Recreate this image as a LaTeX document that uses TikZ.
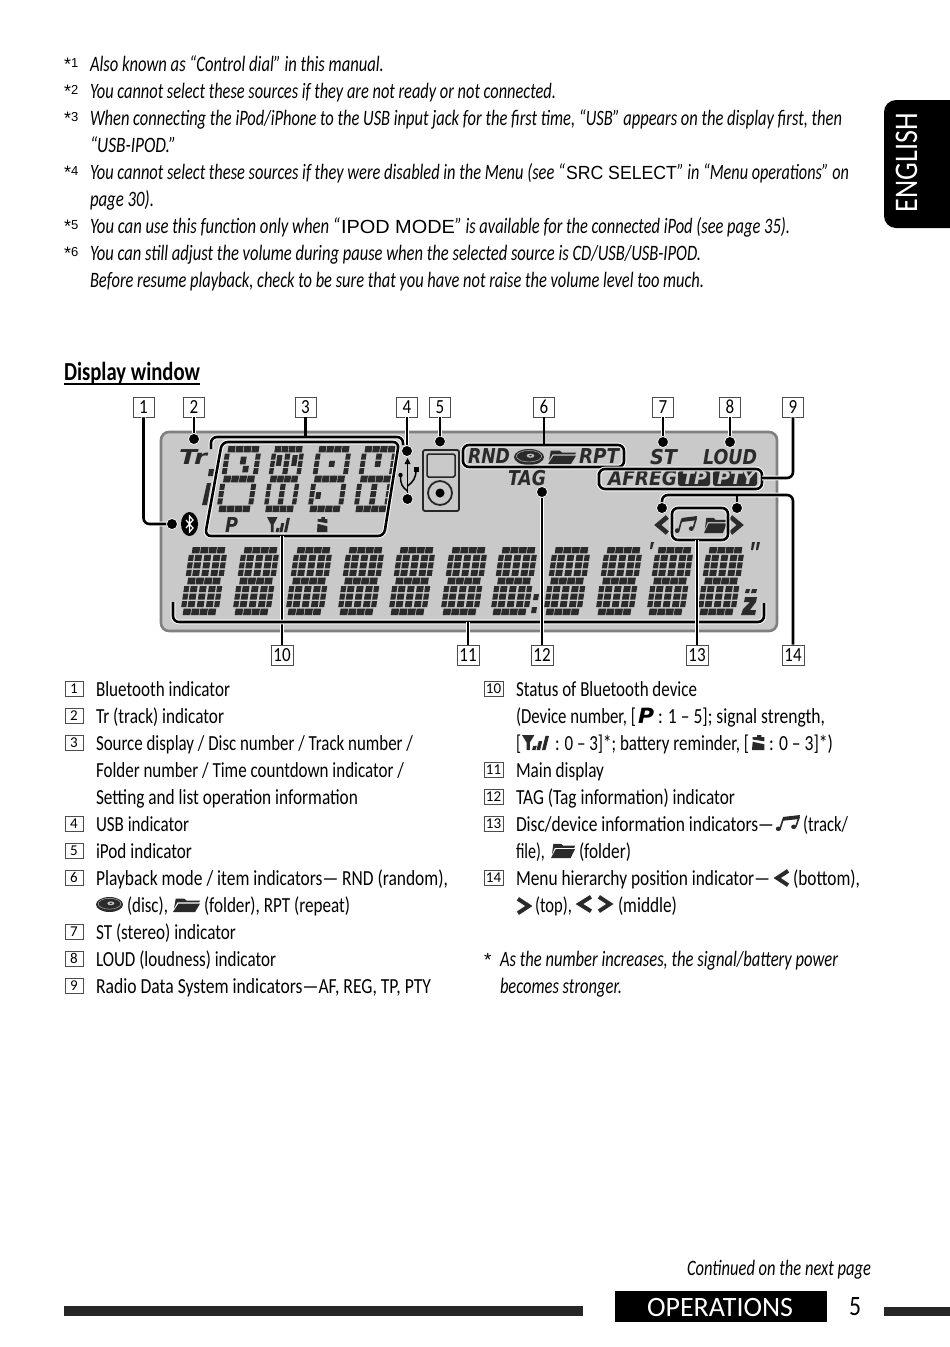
\documentclass[tikz,border=0pt]{standalone}
\usepackage{fontspec}
\usepackage{graphicx}
\setmainfont{Carlito}
\newfontfamily\disp{Liberation Sans}
\newfontfamily\dispb{DejaVu Sans}
\usetikzlibrary{calc}
\definecolor{lcdc}{HTML}{2A2A2A}
\definecolor{panelc}{HTML}{C9C9C9}
\tikzset{
  txt/.style={anchor=base west,inner sep=0pt,outer sep=0pt,font=\fontsize{21.5}{25}\selectfont,text=black},
  ital/.style={font=\itshape\fontsize{22}{25}\selectfont},
  wide/.style={font=\disp\fontsize{19}{23}\selectfont},
  dsp/.style={font=\dispb\bfseries\itshape\fontsize{20.5}{25}\selectfont,text=lcdc},
  dsps/.style={font=\dispb\bfseries\itshape\fontsize{17.5}{20}\selectfont,text=panelc},
  lcdfill/.style={fill=lcdc},
  numbig/.style={draw=black!70,line width=0.9pt,fill=white,minimum width=21pt,minimum height=20pt,inner sep=0pt,font=\fontsize{20}{22}\selectfont},
  numsmall/.style={draw=black!70,line width=0.8pt,fill=white,minimum width=18pt,minimum height=15pt,inner sep=0pt,font=\fontsize{15}{17}\selectfont},
  conn/.style={draw=black,line width=2.6pt,rounded corners=6pt,preaction={draw=white,line width=4.6pt}},
  linec/.style={draw=black,line width=2.6pt,rounded corners=6pt},
  dot/.style={circle,fill=black,draw=white,line width=0.7pt,minimum size=11pt,inner sep=0pt},
}
\newcount\tc
\newcommand\tx[5][]{\global\advance\tc by 1
  \pgfmathsetlengthmacro\tw{(#3-#2)*1pt}
  \node[txt,#1,name=t\the\tc] at (#2,#4) {\resizebox{\tw}{\height}{#5}};}
\newcommand\cel[4]{\fill[lcdfill] (#1,#2)--(#3,#2)--(#3,#4)--(#1,#4)--cycle;}
\newcommand\barsring{%
  \foreach \a in {0.07,0.29,0.51,0.73}{\pgfmathsetmacro\b{\a+0.2}
    \cel{\a}{0.905}{\b}{1}\cel{\a}{0.45}{\b}{0.55}\cel{\a}{0}{\b}{0.095}}
  \foreach \a/\b in {0.575/0.665,0.685/0.775,0.795/0.885,0.115/0.205,0.225/0.315,0.335/0.425}{
    \cel{0}{\a}{0.135}{\b}\cel{0.865}{\a}{1}{\b}}}
\newcommand\mainDigit[2]{\begin{scope}[shift={(#1,#2)},x={(38pt,0pt)},y={(10pt,68pt)}]
  \barsring
  \foreach \a/\b in {0.575/0.665,0.685/0.775,0.795/0.885,0.115/0.205,0.225/0.315,0.335/0.425}{
    \foreach \c/\d in {0.17/0.35,0.41/0.59,0.65/0.83}{\cel{\c}{\a}{\d}{\b}}}
\end{scope}}
\newcommand\srcDigit[4]{\begin{scope}[shift={(#1,#2)},x={(#3pt,0pt)},y={(10pt,66pt)}]
  \barsring #4
\end{scope}}
\newcommand\icFolder[4]{\begin{scope}[shift={(#1,#2)},x=#3pt,y=-#4pt]
  \fill[lcdfill] (0.1,0.05)--(0.42,0.05)--(0.5,0.18)--(1,0.18)--(0.97,0.32)--(0.16,0.32)--(0.04,0.75)--cycle;
  \fill[lcdfill] (0.2,0.4)--(1,0.4)--(0.82,1)--(0,1)--cycle;
\end{scope}}
\newcommand\icNote[4]{\begin{scope}[shift={(#1,#2)},x=#3pt,y=-#4pt]
  \fill[lcdfill] (0.3,0.12)--(1,0)--(0.96,0.25)--(0.28,0.36)--cycle;
  \draw[lcdc,line width=1.6pt] (0.31,0.2)--(0.17,0.85) (0.97,0.1)--(0.83,0.72);
  \fill[lcdfill] (0.1,0.86) circle[x radius=0.11,y radius=0.14];
  \fill[lcdfill] (0.74,0.74) circle[x radius=0.11,y radius=0.14];
\end{scope}}
\newcommand\icAnt[4]{\begin{scope}[shift={(#1,#2)},x=#3pt,y=-#4pt]
  \fill[lcdfill] (0,0)--(0.46,0)--(0.29,0.5)--(0.29,1)--(0.17,1)--(0.17,0.5)--cycle;
  \fill[lcdfill] (0.42,0.72)--(0.55,0.72)--(0.5,1)--(0.37,1)--cycle;
  \fill[lcdfill] (0.62,0.4)--(0.75,0.4)--(0.67,1)--(0.54,1)--cycle;
  \fill[lcdfill] (0.87,0.05)--(1,0.05)--(0.87,1)--(0.74,1)--cycle;
\end{scope}}
\newcommand\icBat[4]{\begin{scope}[shift={(#1,#2)},x=#3pt,y=-#4pt]
  \fill[lcdfill] (0.4,0)--(0.72,0)--(0.72,0.14)--(0.95,0.14)--(0.95,0.42)--(0.05,0.3)--(0.05,0.14)--(0.4,0.14)--cycle;
  \fill[lcdfill] (0.05,0.45)--(0.95,0.62)--(0.95,1)--(0,1)--cycle;
\end{scope}}
\newcommand\icChev[5]{\begin{scope}[shift={(#1,#2)},x=#3pt,y=-#4pt]
  \draw[lcdc,line width=#5pt,line join=miter] (0.88,0.1)--(0.2,0.5)--(0.88,0.9);
\end{scope}}
\newcommand\icChevR[5]{\begin{scope}[shift={(#1,#2)},x=#3pt,y=-#4pt]
  \draw[lcdc,line width=#5pt,line join=miter] (0.12,0.1)--(0.8,0.5)--(0.12,0.9);
\end{scope}}
\newcommand\icDisc[4]{\begin{scope}[shift={(#1,#2)},x=#3pt,y=-#4pt]
  \fill[lcdfill] (0.5,0.5) circle[x radius=0.5,y radius=0.5];
  \draw[white!70!black,line width=0.5pt] (0.5,0.45) circle[x radius=0.42,y radius=0.36];
  \fill[white!75!black] (0.55,0.42) circle[x radius=0.13,y radius=0.13];
  \fill[lcdfill] (0.55,0.42) circle[x radius=0.05,y radius=0.05];
\end{scope}}
\begin{document}
\begin{tikzpicture}[x=1pt,y=-1pt]
\fill[white] (0,0) rectangle (950,1347);
\useasboundingbox (0,0) rectangle (950,1347);
% ---- footnotes
\foreach \n/\y in {1/71,2/98,3/125,4/179,5/233,6/260}{
  \node[txt,font=\disp\fontsize{18}{20}\selectfont,name=fn\n] at (64,\y-1) {*\raisebox{3pt}{\fontsize{13}{14}\selectfont\n}};}
\tx[ital]{90}{384}{71}{Also known as “Control dial” in this manual.}
\tx[ital]{90}{556}{98}{You cannot select these sources if they are not ready or not connected.}
\tx[ital]{90}{842}{125}{When connecting the iPod/iPhone to the USB input jack for the first time, “USB” appears on the display first, then}
\tx[ital]{90}{176}{152}{“USB-IPOD.”}
\tx[ital]{90}{565}{179}{You cannot select these sources if they were disabled in the Menu (see “}
\tx[wide]{566}{677}{179}{SRC SELECT}
\tx[ital]{677}{849}{179}{” in “Menu operations” on}
\tx[ital]{90}{154}{206}{page 30).}
\tx[ital]{90}{340}{233}{You can use this function only when “}
\tx[wide]{341}{455}{233}{IPOD MODE}
\tx[ital]{455}{790}{233}{” is available for the connected iPod (see page 35).}
\tx[ital]{90}{701}{260}{You can still adjust the volume during pause when the selected source is CD/USB/USB-IPOD.}
\tx[ital]{90}{704}{287}{Before resume playback, check to be sure that you have not raise the volume level too much.}
% ---- language tab
\fill[black] (950,100) [rounded corners=12pt] --(884,100)--(884,228) [sharp corners] --(950,228)--cycle;
\node[inner sep=0pt,rotate=90,text=white,anchor=base,font=\fontsize{33}{35}\selectfont,name=eng] at (917,162.5) {\resizebox{99pt}{\height}{ENGLISH}};
% ---- heading
\tx[font=\bfseries\fontsize{26}{28}\selectfont]{64}{200}{380}{Display window}
\draw[black,line width=1.6pt] (64,384)--(200,384);
% ---- panel
\fill[panelc,draw=black!50,line width=2.6pt,rounded corners=8pt] (161,432) rectangle (777,631);
% main digits
\foreach \x in {180,232,285,337,388,440,490,543,595,646,697}{\mainDigit{\x}{615}}
% colon, primes, z
\fill[lcdfill] (534,594)--(539,594)--(538,600)--(533,600)--cycle (532,607)--(537,607)--(536,613)--(531,613)--cycle;
\fill[lcdfill] (651,542)--(654,542)--(652,549)--(650,549)--cycle;
\fill[lcdfill] (752,542)--(755,542)--(753,550)--(751,550)--cycle (757,542)--(760,542)--(758,550)--(756,550)--cycle;
\fill[lcdfill] (746,589)--(750,589)--(749,593)--(745,593)--cycle (752,589)--(757,589)--(756,593)--(751,593)--cycle;
\fill[lcdfill] (745,597)--(757,597)--(756,602)--(750,610)--(756,610)--(755,615)--(741,615)--(743,609)--(750,602)--(744,602)--cycle;
% source digits
\srcDigit{216}{512}{36}{\cel{0.56}{0.6}{0.72}{0.7}\cel{0.46}{0.72}{0.62}{0.84}}
\srcDigit{263}{512}{32}{\foreach \a/\b in {0.575/0.665,0.685/0.775,0.795/0.885,0.115/0.205,0.225/0.315,0.335/0.425}{\cel{0.42}{\a}{0.58}{\b}}\cel{0.18}{0.7}{0.34}{0.86}\cel{0.66}{0.7}{0.82}{0.86}}
\srcDigit{307}{512}{35}{\cel{0.42}{0.685}{0.58}{0.775}\cel{0.18}{0.2}{0.32}{0.3}}
\srcDigit{353}{512}{35}{\foreach \a/\b in {0.685/0.775,0.795/0.885,0.115/0.205,0.225/0.315,0.335/0.425}{\cel{0.42}{\a}{0.58}{\b}}}
% colon-like 1
\fill[lcdfill] (209,469)--(214,469)--(213,476)--(208,476)--cycle;
\fill[lcdfill] (207,483)--(211,483)--(207,505)--(202,505)--cycle;
% display labels
\tx[dsp]{179}{207}{464}{Tr}
\tx[dsp]{225}{238}{532}{P}
\icAnt{267}{517}{23}{15}
\icBat{317}{517}{11}{15}
\tx[dsp]{468}{510}{463.5}{RND}
\icDisc{514}{449}{30}{16}
\icFolder{548}{450}{28}{14}
\tx[dsp]{579}{619}{463.5}{RPT}
\tx[dsp]{650}{677}{464}{ST}
\tx[dsp]{703}{757}{464}{LOUD}
\tx[dsp]{508}{546}{485}{TAG}
\tx[dsp]{608}{677}{485}{AFREG}
\fill[lcdfill,rounded corners=2.5pt] (678,471) rectangle (710,486);
\fill[lcdfill,rounded corners=2.5pt] (713,471) rectangle (757,486);
\tx[dsps]{682}{707}{484}{TP}
\tx[dsps]{717}{755}{484}{PTY}
% bluetooth
\fill[black] (189.5,524) circle[x radius=8.5,y radius=12];
\draw[white,line width=1.2pt] (186,520)--(193,528)--(189.5,532)--(189.5,516)--(193,520)--(186,528);
% ipod
\draw[black!85,line width=1.8pt,rounded corners=2pt] (423,450) rectangle (459,511);
\draw[black!85,line width=1.5pt,rounded corners=1.5pt] (427,454) rectangle (455,477);
\draw[black!85,line width=1.8pt] (440,493) circle[radius=12];
\fill[black] (440,493) circle[radius=4.5];
% usb
\draw[black,line width=1.5pt] (407.5,462)--(407.5,497);
\fill[black] (407.5,458)--(404.5,464)--(410.5,464)--cycle;
\draw[black,line width=1.5pt] (407.5,491) .. controls (402,487) and (400.5,484) .. (400.5,476);
\draw[black,line width=1.5pt] (407.5,486) .. controls (413,482) and (416,478) .. (416,470);
\fill[black] (400.5,475) circle[radius=2.2];
\fill[black] (413.5,466.5) rectangle (418.5,471.5);
% chevrons, notes
\icChev{655}{515}{14}{20}{4.6}
\icChevR{729}{515}{14}{20}{4.6}
\icNote{675}{516}{22}{17}
\icFolder{704}{517}{23}{16}
% number boxes
\foreach \n/\x in {1/143.5,2/194,3/305.5,4/407,5/440,6/544,7/663,8/730,9/793}{
  \node[numbig,name=n\n] at (\x,407) {\scalebox{0.85}[1]{\n}};}
\foreach \n/\x in {10/282,11/468,12/542,13/697,14/793}{
  \node[numbig,minimum width=22pt,name=n\n] at (\x,655) {\scalebox{0.85}[1]{\n}};}
% dots
\node[dot,name=d1] at (172,524) {};
\node[dot,name=d2] at (194,439) {};
\node[dot,name=d4] at (407,451) {};
\node[dot,name=d4b] at (407.5,499) {};
\node[dot,name=d5] at (440,441.5) {};
\node[dot,name=d7] at (663,442) {};
\node[dot,name=d8] at (730,442) {};
\node[dot,name=d12] at (542,492) {};
\node[dot,name=d14a] at (662,508) {};
\node[dot,name=d14b] at (737,508) {};
% connectors
\draw[conn] (n1.south) |- (d1.west);
\draw[conn] (n2.south) -- (d2);
\draw[conn] (n4.south) -- (d4);
\draw[conn] (n5.south) -- (d5);
\draw[conn] (n7.south) -- (d7);
\draw[conn] (n8.south) -- (d8);
\coordinate (b3l) at (211,449); \coordinate (b3r) at (403,445); \coordinate (b3t) at (305.5,437);
\draw[conn] (b3l)--(211,437)--(403,437)--(b3r);
\draw[linec] (n3.south)--(b3t);
\coordinate (b6) at (544,445);
\draw[conn] (463,456)--(463,445)--(624,445)--(624,467)--(463,467)--cycle;
\draw[linec] (n6.south)--(b6);
\draw[conn] (599,479)--(599,469)--(762,469)--(762,489)--(599,489)--cycle;
\draw[conn] (n9.south)|-(762,478);
\coordinate (b10) at (282,536);
\draw[conn] (222,442)--(399,442)--(384,536)--(205,536)--cycle;
\draw[conn] (n10.north)--(b10);
\coordinate (b11) at (468,622);
\draw[conn] (173,602)--(173,622)--(764,622)--(764,603);
\draw[conn] (n11.north)--(b11);
\draw[conn] (n12.north)--(d12);
\coordinate (b13) at (697,540);
\draw[conn] (672,524)--(672,508)--(728,508)--(728,540)--(672,540)--cycle;
\draw[conn] (n13.north)--(b13);
\coordinate (b14) at (737,495);
\draw[conn] (d14a.north)--(662,495)--(793,495)--(n14.north);
\draw[linec] (d14b.north)--(b14);
% ---- left list
\foreach \n/\y in {1/696,2/723,3/750,4/831,5/858,6/885,7/939,8/966,9/993}{
  \node[numsmall,name=l\n] at (74,\y-7.5) {\n};}
\tx{96}{230}{696}{Bluetooth indicator}
\tx{96}{224}{723}{Tr (track) indicator}
\tx{96}{413}{750}{Source display / Disc number / Track number /}
\tx{96}{404}{777}{Folder number / Time countdown indicator /}
\tx{96}{358}{804}{Setting and list operation information}
\tx{96}{189}{831}{USB indicator}
\tx{96}{192}{858}{iPod indicator}
\tx{96}{448}{885}{Playback mode / item indicators— RND (random),}
\icDisc{96}{897}{27}{15}
\tx{127}{168}{912}{(disc),}
\icFolder{173}{898}{27}{14}
\tx{204}{350}{912}{(folder), RPT (repeat)}
\tx{96}{236}{939}{ST (stereo) indicator}
\tx{96}{276}{966}{LOUD (loudness) indicator}
\tx{96}{431}{993}{Radio Data System indicators—AF, REG, TP, PTY}
% ---- right list
\foreach \n/\y in {10/696,11/777,12/804,13/831,14/885}{
  \node[numsmall,minimum width=19pt,name=r\n] at (493.5,\y-7.5) {\n};}
\tx{516}{697}{696}{Status of Bluetooth device}
\tx{516}{636}{723}{(Device number, [}
\tx[font=\dispb\bfseries\itshape\fontsize{21}{25}\selectfont,text=black]{638}{654}{723}{P}
\tx{658}{825}{723}{: 1 – 5]; signal strength,}
\tx{516}{521}{750}{[}
\icAnt{522}{735}{27}{15}
\tx{555}{749}{750}{: 0 – 3]*; battery reminder, [}
\icBat{752}{735}{13}{15}
\tx{769}{833}{750}{: 0 – 3]*)}
\tx{516}{604}{777}{Main display}
\tx{516}{735}{804}{TAG (Tag information) indicator}
\tx{516}{774}{831}{Disc/device information indicators—}
\icNote{776}{815}{24}{16}
\tx{803}{848}{831}{(track/}
\tx{516}{545}{858}{file),}
\icFolder{551}{843}{24}{15}
\tx{579}{631}{858}{(folder)}
\tx{516}{770}{885}{Menu hierarchy position indicator—}
\icChev{774}{869}{16}{18}{4}
\tx{793}{860}{885}{(bottom),}
\icChevR{516}{897}{16}{18}{4}
\tx{535}{572}{912}{(top),}
\icChev{576}{895}{17}{18}{4}
\icChevR{597}{895}{16}{18}{4}
\tx{618}{677}{912}{(middle)}
\node[txt,font=\disp\fontsize{19}{21}\selectfont,name=star] at (484,966) {*};
\tx[ital]{500}{838}{966}{As the number increases, the signal/battery power}
\tx[ital]{500}{622}{993}{becomes stronger.}
% ---- footer
\tx[ital]{687}{871}{1275}{Continued on the next page}
\fill[black!85] (64,1306) rectangle (583,1316);
\fill[black] (615,1291) rectangle (827,1322);
\tx[font=\fontsize{28}{32}\selectfont,text=white]{647}{793}{1316}{OPERATIONS}
\tx[font=\fontsize{28}{32}\selectfont]{849}{861}{1315}{5}
\fill[black!85] (884,1307) rectangle (950,1316);
\end{tikzpicture}
\end{document}
